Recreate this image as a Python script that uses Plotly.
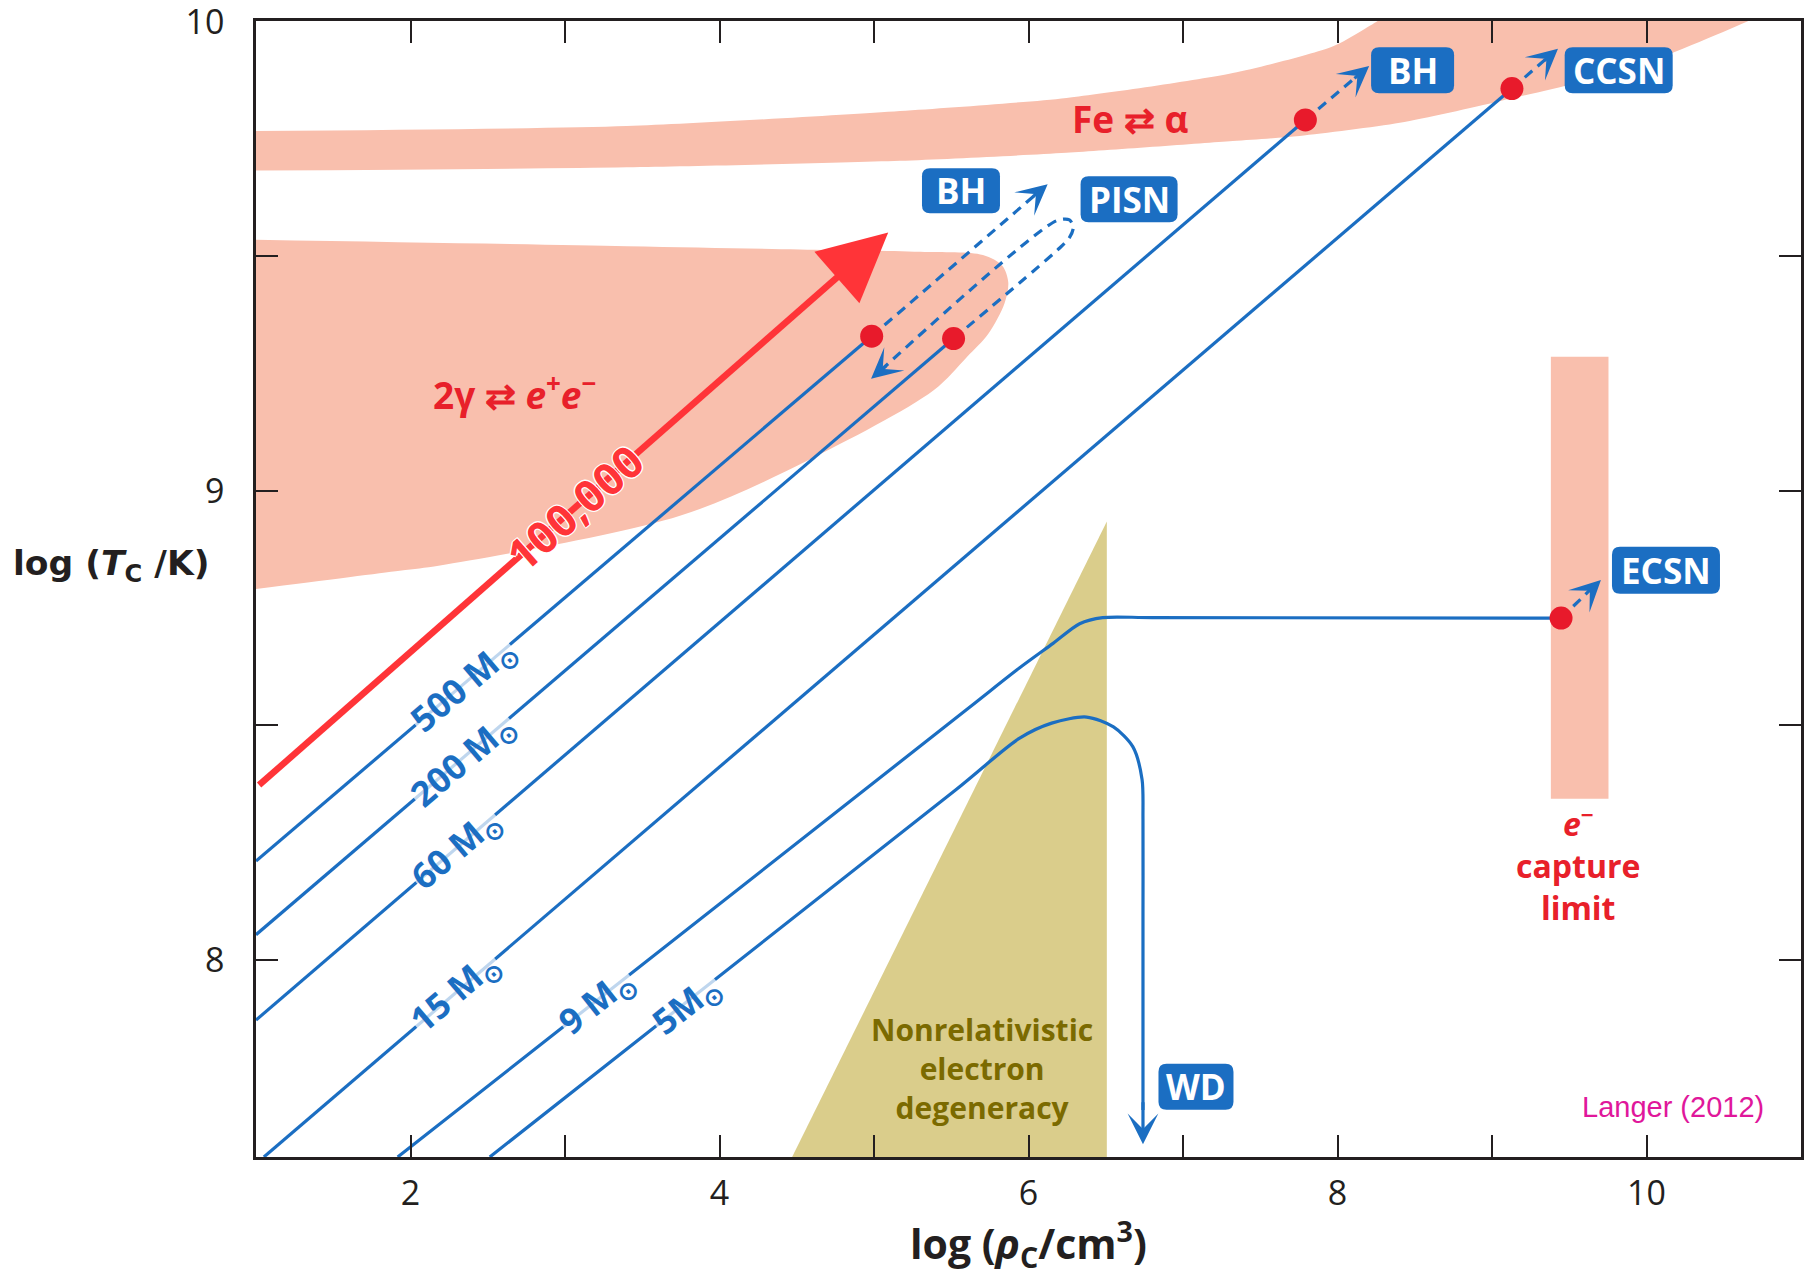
import math
import plotly.graph_objects as go

# ---------------- axes ----------------
X_RANGE = [1.0, 11.0]
Y_RANGE = [7.58, 10.002]
x_tickvals = [2, 3, 4, 5, 6, 7, 8, 9, 10]
x_ticktext = ["2", "", "4", "", "6", "", "8", "", "10"]
y_tickvals = [8.0, 8.5, 9.0, 9.5, 10.0]
y_ticktext = ["8", "", "9", "", "10"]

# ---------------- regions ----------------
fe_lower_x = [0.9, 3.4, 5.168, 6.246, 7.322, 7.755, 8.403, 9.049, 9.91, 10.645, 11.1]
fe_lower_y = [9.683, 9.69, 9.704, 9.721, 9.746, 9.757, 9.785, 9.831, 9.902, 10.0, 10.07]
fe_upper_x = [8.45, 8.25, 7.971, 7.322, 6.246, 5.168, 3.4, 0.9]
fe_upper_y = [10.04, 10.0, 9.948, 9.891, 9.838, 9.81, 9.778, 9.767]

pair_x = [0.9, 3.4, 4.519, 5.3, 5.705, 5.83, 5.869, 5.845, 5.74, 5.6, 5.384, 4.57, 3.744, 2.191, 1.93, 0.9]
pair_y = [9.536, 9.522, 9.515, 9.51, 9.503, 9.48, 9.445, 9.4, 9.335, 9.285, 9.214, 9.065, 8.947, 8.841, 8.83, 8.787]

degen_x = [4.47, 6.507, 6.507]
degen_y = [7.58, 8.935, 7.58]

ecap_x = [9.381, 9.754, 9.754, 9.381]
ecap_y = [8.344, 8.344, 9.286, 9.286]

# ---------------- evolutionary tracks ----------------
m500_x, m500_y = [1.0, 4.985], [8.211, 9.33]
m200_x, m200_y = [1.0, 5.515], [8.054, 9.325]
m60_x, m60_y = [1.0, 7.792], [7.872, 9.791]
m15_x, m15_y = [1.051, 9.129], [7.58, 9.858]
m9_x = [1.917, 5.6, 5.943, 6.159, 6.331, 6.48, 6.8, 9.447]
m9_y = [7.58, 8.534, 8.623, 8.675, 8.717, 8.73, 8.73, 8.729]
m5_x = [2.513, 5.53, 5.943, 6.15, 6.376, 6.55, 6.675, 6.735, 6.741, 6.741, 6.741]
m5_y = [7.58, 8.363, 8.473, 8.505, 8.518, 8.497, 8.455, 8.385, 8.30, 8.1, 7.68]

# dashed continuations
d500_x, d500_y = [4.985, 6.06], [9.33, 9.636]
d60_x, d60_y = [7.792, 8.15], [9.791, 9.891]
d15_x, d15_y = [9.129, 9.38], [9.858, 9.930]
d9_x, d9_y = [9.447, 9.66], [8.729, 8.797]
pisn_x = [5.515, 6.20, 6.265, 6.29, 6.265, 6.18, 5.05]
pisn_y = [9.325, 9.5175, 9.54, 9.562, 9.578, 9.576, 9.259]

# arrowheads (tip x, tip y, tail x, tail y)
blue_heads = [
    (6.124, 9.654, 6.02, 9.625),
    (8.205, 9.906, 8.10, 9.877),
    (9.427, 9.943, 9.33, 9.915),
    (9.705, 8.81, 9.62, 8.783),
    (4.981, 9.239, 5.09, 9.27),
    (6.741, 7.607, 6.741, 7.70),
]

# 100,000 Msun track (red)
red_x, red_y = [1.02, 4.86], [8.373, 9.484]
red_tip = (5.092, 9.551)

# end points (red dots)
dot_x = [4.985, 5.515, 7.792, 9.129, 9.447]
dot_y = [9.33, 9.325, 9.791, 9.858, 8.729]

# labels
mass_labels = ["500 M<sub>⊙</sub>", "200 M<sub>⊙</sub>", "60 M<sub>⊙</sub>",
               "15 M<sub>⊙</sub>", "9 M<sub>⊙</sub>", "5M<sub>⊙</sub>"]
mass_lab_x = [2.342, 2.342, 2.295, 2.288, 3.205, 3.791]
mass_lab_y = [8.585, 8.425, 8.235, 7.93, 7.912, 7.905]
mass_slopes = [0.281, 0.281, 0.282, 0.282, 0.259, 0.2595]

box_labels = ["BH", "PISN", "BH", "CCSN", "ECSN", "WD"]
box_x = [5.563, 6.651, 8.486, 9.82, 10.126, 7.084]
box_y = [9.64, 9.622, 9.897, 9.897, 8.831, 7.73]
box_w = [78, 97, 83, 108, 108, 75]
box_h = [45, 46, 46, 46, 47, 46]

# ---------------- colours ----------------
SALMON = "#F9BFAD"
KHAKI = "#DACD8B"
BLUE = "#1B6EC2"
RED_DOT = "#E81A2B"
RED_LINE = "#FF3438"
RED_TXT = "#E8202A"
OLIVE = "#7B6A00"
AXC = "#231F20"

ML, MR, MT, MB = 256, 6, 21, 118
W, H = 1807, 1275
px_x = (W - ML - MR) / (X_RANGE[1] - X_RANGE[0])
px_y = (H - MT - MB) / (Y_RANGE[1] - Y_RANGE[0])


def ang(slope):
    return -math.degrees(math.atan(slope * px_y / px_x))


fig = go.Figure()

fig.add_trace(go.Scatter(x=fe_lower_x + fe_upper_x, y=fe_lower_y + fe_upper_y, fill="toself",
                         fillcolor=SALMON, mode="lines",
                         line=dict(width=0, color=SALMON, shape="spline", smoothing=0.7),
                         hoverinfo="skip"))
fig.add_trace(go.Scatter(x=pair_x, y=pair_y, fill="toself", fillcolor=SALMON, mode="lines",
                         line=dict(width=0, color=SALMON, shape="spline", smoothing=0.9),
                         hoverinfo="skip"))
fig.add_trace(go.Scatter(x=degen_x, y=degen_y, fill="toself", fillcolor=KHAKI, mode="lines",
                         line=dict(width=0, color=KHAKI), hoverinfo="skip"))
fig.add_trace(go.Scatter(x=ecap_x, y=ecap_y, fill="toself", fillcolor=SALMON, mode="lines",
                         line=dict(width=0, color=SALMON), hoverinfo="skip"))

for xs, ys, shp in [(m500_x, m500_y, "linear"), (m200_x, m200_y, "linear"),
                    (m60_x, m60_y, "linear"), (m15_x, m15_y, "linear"),
                    (m9_x, m9_y, "spline"), (m5_x, m5_y, "spline")]:
    fig.add_trace(go.Scatter(x=xs, y=ys, mode="lines",
                             line=dict(color=BLUE, width=3.2, shape=shp, smoothing=0.8),
                             hoverinfo="skip"))

for xs, ys, shp in [(d500_x, d500_y, "linear"), (d60_x, d60_y, "linear"),
                    (d15_x, d15_y, "linear"), (d9_x, d9_y, "linear"),
                    (pisn_x, pisn_y, "spline")]:
    fig.add_trace(go.Scatter(x=xs, y=ys, mode="lines",
                             line=dict(color=BLUE, width=3.2, dash="10px,7px", shape=shp,
                                       smoothing=0.8),
                             hoverinfo="skip"))

fig.add_trace(go.Scatter(x=red_x, y=red_y, mode="lines",
                         line=dict(color=RED_LINE, width=6.5), hoverinfo="skip"))

fig.add_trace(go.Scatter(x=dot_x, y=dot_y, mode="markers",
                         marker=dict(color=RED_DOT, size=23, line=dict(width=0)),
                         hoverinfo="skip"))

ann = []
for tx, ty, sx, sy in blue_heads:
    ann.append(dict(x=tx, y=ty, ax=sx, ay=sy, xref="x", yref="y", axref="x", ayref="y",
                    text="", showarrow=True, arrowhead=3, arrowsize=1.6, arrowwidth=3.2,
                    arrowcolor=BLUE, standoff=0))
ann.append(dict(x=red_tip[0], y=red_tip[1], ax=red_x[-1], ay=red_y[-1], xref="x", yref="y",
                axref="x", ayref="y", text="", showarrow=True, arrowhead=2, arrowsize=2.1,
                arrowwidth=6.5, arrowcolor=RED_LINE, standoff=0))

for t, x, y, s in zip(mass_labels, mass_lab_x, mass_lab_y, mass_slopes):
    ann.append(dict(x=x, y=y, xref="x", yref="y", text="<b>" + t + "</b>", showarrow=False,
                    textangle=ang(s), bgcolor="rgba(255,255,255,0.72)", borderpad=0,
                    font=dict(family="Open Sans", size=35, color=BLUE)))

ann.append(dict(x=3.065, y=8.965, xref="x", yref="y", text="<b>100,000</b>", showarrow=False,
                textangle=ang(0.2893),
                font=dict(family="Open Sans", size=44, color=RED_LINE,
                          shadow="1px 1px 0 #fff, -1px -1px 0 #fff, 1px -1px 0 #fff, -1px 1px 0 #fff")))

ann.append(dict(x=2.67, y=9.21, xref="x", yref="y", showarrow=False,
                text="<b>2γ ⇄ <i>e</i><sup>+</sup><i>e</i><sup>−</sup></b>",
                font=dict(family="Open Sans", size=37, color=RED_TXT)))
ann.append(dict(x=6.659, y=9.795, xref="x", yref="y", showarrow=False,
                text="<b>Fe ⇄ α</b>", font=dict(family="Open Sans", size=37, color=RED_TXT)))
ann.append(dict(x=9.559, y=8.204, xref="x", yref="y", showarrow=False,
                text="<b><i>e</i><sup>−</sup><br>capture<br>limit</b>",
                font=dict(family="Open Sans", size=32, color=RED_TXT)))
ann.append(dict(x=5.697, y=7.769, xref="x", yref="y", showarrow=False,
                text="<b>Nonrelativistic<br>electron<br>degeneracy</b>",
                font=dict(family="Open Sans", size=30, color=OLIVE)))
ann.append(dict(x=10.17, y=7.686, xref="x", yref="y", showarrow=False,
                text="Langer (2012)",
                font=dict(family="Liberation Sans", size=29, color="#E0179B")))

shapes = []


def rrect(w, h, r):
    x0, x1, y0, y1 = -w / 2, w / 2, -h / 2, h / 2
    return (f"M{x0 + r},{y0} L{x1 - r},{y0} Q{x1},{y0} {x1},{y0 + r} L{x1},{y1 - r} "
            f"Q{x1},{y1} {x1 - r},{y1} L{x0 + r},{y1} Q{x0},{y1} {x0},{y1 - r} "
            f"L{x0},{y0 + r} Q{x0},{y0} {x0 + r},{y0} Z")


for t, x, y, w, h in zip(box_labels, box_x, box_y, box_w, box_h):
    shapes.append(dict(type="path", xref="x", yref="y", xsizemode="pixel", ysizemode="pixel",
                       xanchor=x, yanchor=y, path=rrect(w, h, 8), fillcolor=BLUE,
                       line=dict(width=0), layer="above"))
    ann.append(dict(x=x, y=y, xref="x", yref="y", text="<b>" + t + "</b>", showarrow=False,
                    font=dict(family="Open Sans", size=35, color="white")))

ann.append(dict(x=0.5, y=0, xref="paper", yref="paper", xanchor="center", yanchor="middle",
                yshift=-86, showarrow=False,
                text="<b>log (<i>ρ</i><sub>C</sub>/cm<sup>3</sup>)</b>",
                font=dict(family="Open Sans", size=41, color=AXC)))
ann.append(dict(x=0, y=0.521, xref="paper", yref="paper", xanchor="center", yanchor="middle",
                xshift=-145, showarrow=False,
                text="<b>log (<i>T</i><sub>C</sub> /K)</b>",
                font=dict(family="DejaVu Sans", size=34.5, color=AXC)))

fig.update_layout(
    width=W, height=H, margin=dict(l=ML, r=MR, t=MT, b=MB),
    plot_bgcolor="white", paper_bgcolor="white", showlegend=False,
    annotations=ann, shapes=shapes,
    xaxis=dict(range=X_RANGE, tickvals=x_tickvals, ticktext=x_ticktext, ticks="inside",
               ticklen=22, tickwidth=2, tickcolor=AXC, showline=True, linewidth=2.5,
               linecolor=AXC, mirror="allticks", showgrid=False, zeroline=False,
               automargin=False, ticklabeloverflow="allow",
               tickfont=dict(family="Open Sans", size=34, color=AXC), ticklabelstandoff=4),
    yaxis=dict(range=Y_RANGE, tickvals=y_tickvals, ticktext=y_ticktext, ticks="inside",
               ticklen=22, tickwidth=2, tickcolor=AXC, showline=True, linewidth=2.5,
               linecolor=AXC, mirror="allticks", showgrid=False, zeroline=False,
               automargin=False, ticklabeloverflow="allow",
               tickfont=dict(family="Open Sans", size=34, color=AXC), ticklabelstandoff=22),
)

fig.write_html("out.html", config={"displayModeBar": False},
               post_script="document.body.style.margin='0';document.body.style.overflow='hidden';")
